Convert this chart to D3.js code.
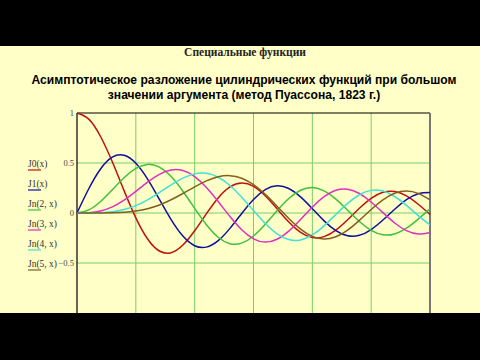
<!DOCTYPE html>
<html>
<head>
<meta charset="utf-8">
<script src="https://cdn.jsdelivr.net/npm/d3@7"></script>
<style>
  body { margin: 0; background: #000; }
  svg { display: block; }
</style>
</head>
<body>
<div id="main"></div>
<script>
// sample points x = 0, 0.5, ... 15
var xs = d3.range(0, 15.01, 0.5);

var j0 = [1, 0.9385, 0.7652, 0.5118, 0.2239, -0.0484, -0.2601, -0.3801, -0.3971, -0.3205, -0.1776, -0.0068, 0.1506, 0.2601, 0.3001, 0.2663, 0.1717, 0.0419, -0.0903, -0.1939, -0.2459, -0.2366, -0.1712, -0.0677, 0.0477, 0.1469, 0.2069, 0.2150, 0.1711, 0.0875, -0.0142];
var j1 = [0, 0.2423, 0.4401, 0.5579, 0.5767, 0.4971, 0.3391, 0.1374, -0.0660, -0.2311, -0.3276, -0.3414, -0.2767, -0.1538, -0.0047, 0.1352, 0.2346, 0.2731, 0.2453, 0.1613, 0.0435, -0.0789, -0.1768, -0.2284, -0.2234, -0.1655, -0.0703, 0.0380, 0.1334, 0.1934, 0.2051];
var j2 = [0, 0.0306, 0.1149, 0.2321, 0.3528, 0.4461, 0.4861, 0.4586, 0.3641, 0.2178, 0.0466, -0.1173, -0.2429, -0.3074, -0.3014, -0.2303, -0.1130, 0.0223, 0.1448, 0.2279, 0.2546, 0.2216, 0.1390, 0.0280, -0.0849, -0.1734, -0.2177, -0.2094, -0.1520, -0.0608, 0.0415];
var j3 = [0, 0.0026, 0.0196, 0.0610, 0.1289, 0.2167, 0.3091, 0.3868, 0.4302, 0.4247, 0.3648, 0.2561, 0.1148, -0.0354, -0.1676, -0.2580, -0.2911, -0.2626, -0.1809, -0.0653, 0.0584, 0.1633, 0.2273, 0.2381, 0.1951, 0.1100, 0.0033, -0.1000, -0.1768, -0.2102, -0.1940];
var j4 = [0, 0.0002, 0.0025, 0.0118, 0.0340, 0.0738, 0.1320, 0.2045, 0.2812, 0.3485, 0.3912, 0.3967, 0.3577, 0.2747, 0.1577, 0.0239, -0.1053, -0.2077, -0.2654, -0.2691, -0.2196, -0.1283, -0.0150, 0.0962, 0.1825, 0.2262, 0.2192, 0.1650, 0.0762, -0.0262, -0.1191];
var j5 = [0, 0.0000, 0.0002, 0.0018, 0.0070, 0.0195, 0.0430, 0.0804, 0.1322, 0.1949, 0.2611, 0.3209, 0.3621, 0.3735, 0.3478, 0.2835, 0.1858, 0.0671, -0.0550, -0.1613, -0.2341, -0.2611, -0.2382, -0.1712, -0.0734, 0.0348, 0.1316, 0.1978, 0.2203, 0.1957, 0.1305];

var seriesNames = ["J0(x)", "J1(x)", "Jn(2, x)", "Jn(3, x)", "Jn(4, x)", "Jn(5, x)"];
var seriesValues = [j0, j1, j2, j3, j4, j5];
var seriesColors = ["#c01010", "#1010a0", "#40c040", "#e030c0", "#40e0d8", "#806020"];

var yTicks = [1, 0.5, 0, -0.5];
var yTickLabels = ["1", "0.5", "0", "\u22120.5"];
var xGrid = [2.5, 5, 7.5, 10, 12.5];

var width = 480, height = 360;
var bandTop = 46, bandBottom = 313;
var plotLeft = 77, plotRight = 430, plotTop = 113, plotBottom = 313;

var svg = d3.select("#main").append("svg")
    .attr("width", width)
    .attr("height", height)

svg.append("rect")
    .attr("x", 0).attr("y", 0)
    .attr("width", width).attr("height", height)
    .attr("fill", "#000")

svg.append("rect")
    .attr("x", 0).attr("y", bandTop)
    .attr("width", width).attr("height", bandBottom - bandTop)
    .attr("fill", "#ffffc8")

svg.append("text")
    .attr("x", 245).attr("y", 56)
    .attr("text-anchor", "middle")
    .attr("font-family", "Liberation Serif, serif")
    .attr("font-weight", "bold")
    .attr("font-size", 11.5)
    .attr("fill", "#222")
    .text("Специальные функции")

var subtitle = ["Асимптотическое разложение цилиндрических функций при большом",
    "значении аргумента (метод Пуассона, 1823 г.)"];
svg.selectAll(".sub").data(subtitle).enter()
    .append("text")
    .attr("class", "sub")
    .attr("x", 244)
    .attr("y", (d, i) => 84 + i * 14.5)
    .attr("text-anchor", "middle")
    .attr("font-family", "Liberation Sans, Arial, sans-serif")
    .attr("font-weight", "bold")
    .attr("font-size", 12.1)
    .attr("fill", "#000")
    .text(d => d)

var xScale = d3.scaleLinear().domain([0, 15]).range([plotLeft, plotRight]);
var yScale = d3.scaleLinear().domain([-1, 1]).range([plotBottom, plotTop]);

var g = svg.append("g");

// grid
g.selectAll(".vgrid").data(xGrid).enter()
    .append("line")
    .attr("x1", d => xScale(d)).attr("x2", d => xScale(d))
    .attr("y1", plotTop).attr("y2", plotBottom)
    .attr("stroke", "#7ccc6c").attr("stroke-width", 1)

g.selectAll(".hgrid").data([0.5, 0, -0.5]).enter()
    .append("line")
    .attr("x1", plotLeft).attr("x2", plotRight)
    .attr("y1", d => yScale(d)).attr("y2", d => yScale(d))
    .attr("stroke", "#7ccc6c").attr("stroke-width", 1)

// frame
g.append("line")
    .attr("x1", plotLeft).attr("x2", plotRight)
    .attr("y1", plotTop).attr("y2", plotTop)
    .attr("stroke", "#000").attr("stroke-width", 1.2)
g.append("line")
    .attr("x1", plotLeft).attr("x2", plotLeft)
    .attr("y1", plotTop).attr("y2", plotBottom)
    .attr("stroke", "#000").attr("stroke-width", 1.2)
g.append("line")
    .attr("x1", plotRight).attr("x2", plotRight)
    .attr("y1", plotTop).attr("y2", plotBottom)
    .attr("stroke", "#777").attr("stroke-width", 2)

// y tick labels
g.selectAll(".ytick").data(yTicks).enter()
    .append("text")
    .attr("x", plotLeft - 3)
    .attr("y", d => yScale(d) + 3)
    .attr("text-anchor", "end")
    .attr("font-family", "Liberation Serif, serif")
    .attr("font-size", 8.5)
    .attr("fill", "#444")
    .text((d, i) => yTickLabels[i])

// curves
var line = d3.line()
    .x((d, i) => xScale(xs[i]))
    .y(d => yScale(d))
    .curve(d3.curveNatural);

g.selectAll(".curve").data(seriesValues).enter()
    .append("path")
    .attr("d", line)
    .attr("fill", "none")
    .attr("stroke", (d, i) => seriesColors[i])
    .attr("stroke-width", 1.5)

// legend
var legend = svg.selectAll(".legend").data(seriesNames).enter()
    .append("g")
    .attr("transform", (d, i) => "translate(28," + (167 + i * 20) + ")");

legend.append("text")
    .attr("x", 0).attr("y", 0)
    .attr("font-family", "Liberation Serif, serif")
    .attr("font-size", 9.5)
    .attr("fill", "#333")
    .text(d => d)

legend.append("line")
    .attr("x1", 0).attr("x2", 13)
    .attr("y1", 3).attr("y2", 3)
    .attr("stroke", (d, i) => seriesColors[i])
    .attr("stroke-width", 1.2)
</script>
</body>
</html>
